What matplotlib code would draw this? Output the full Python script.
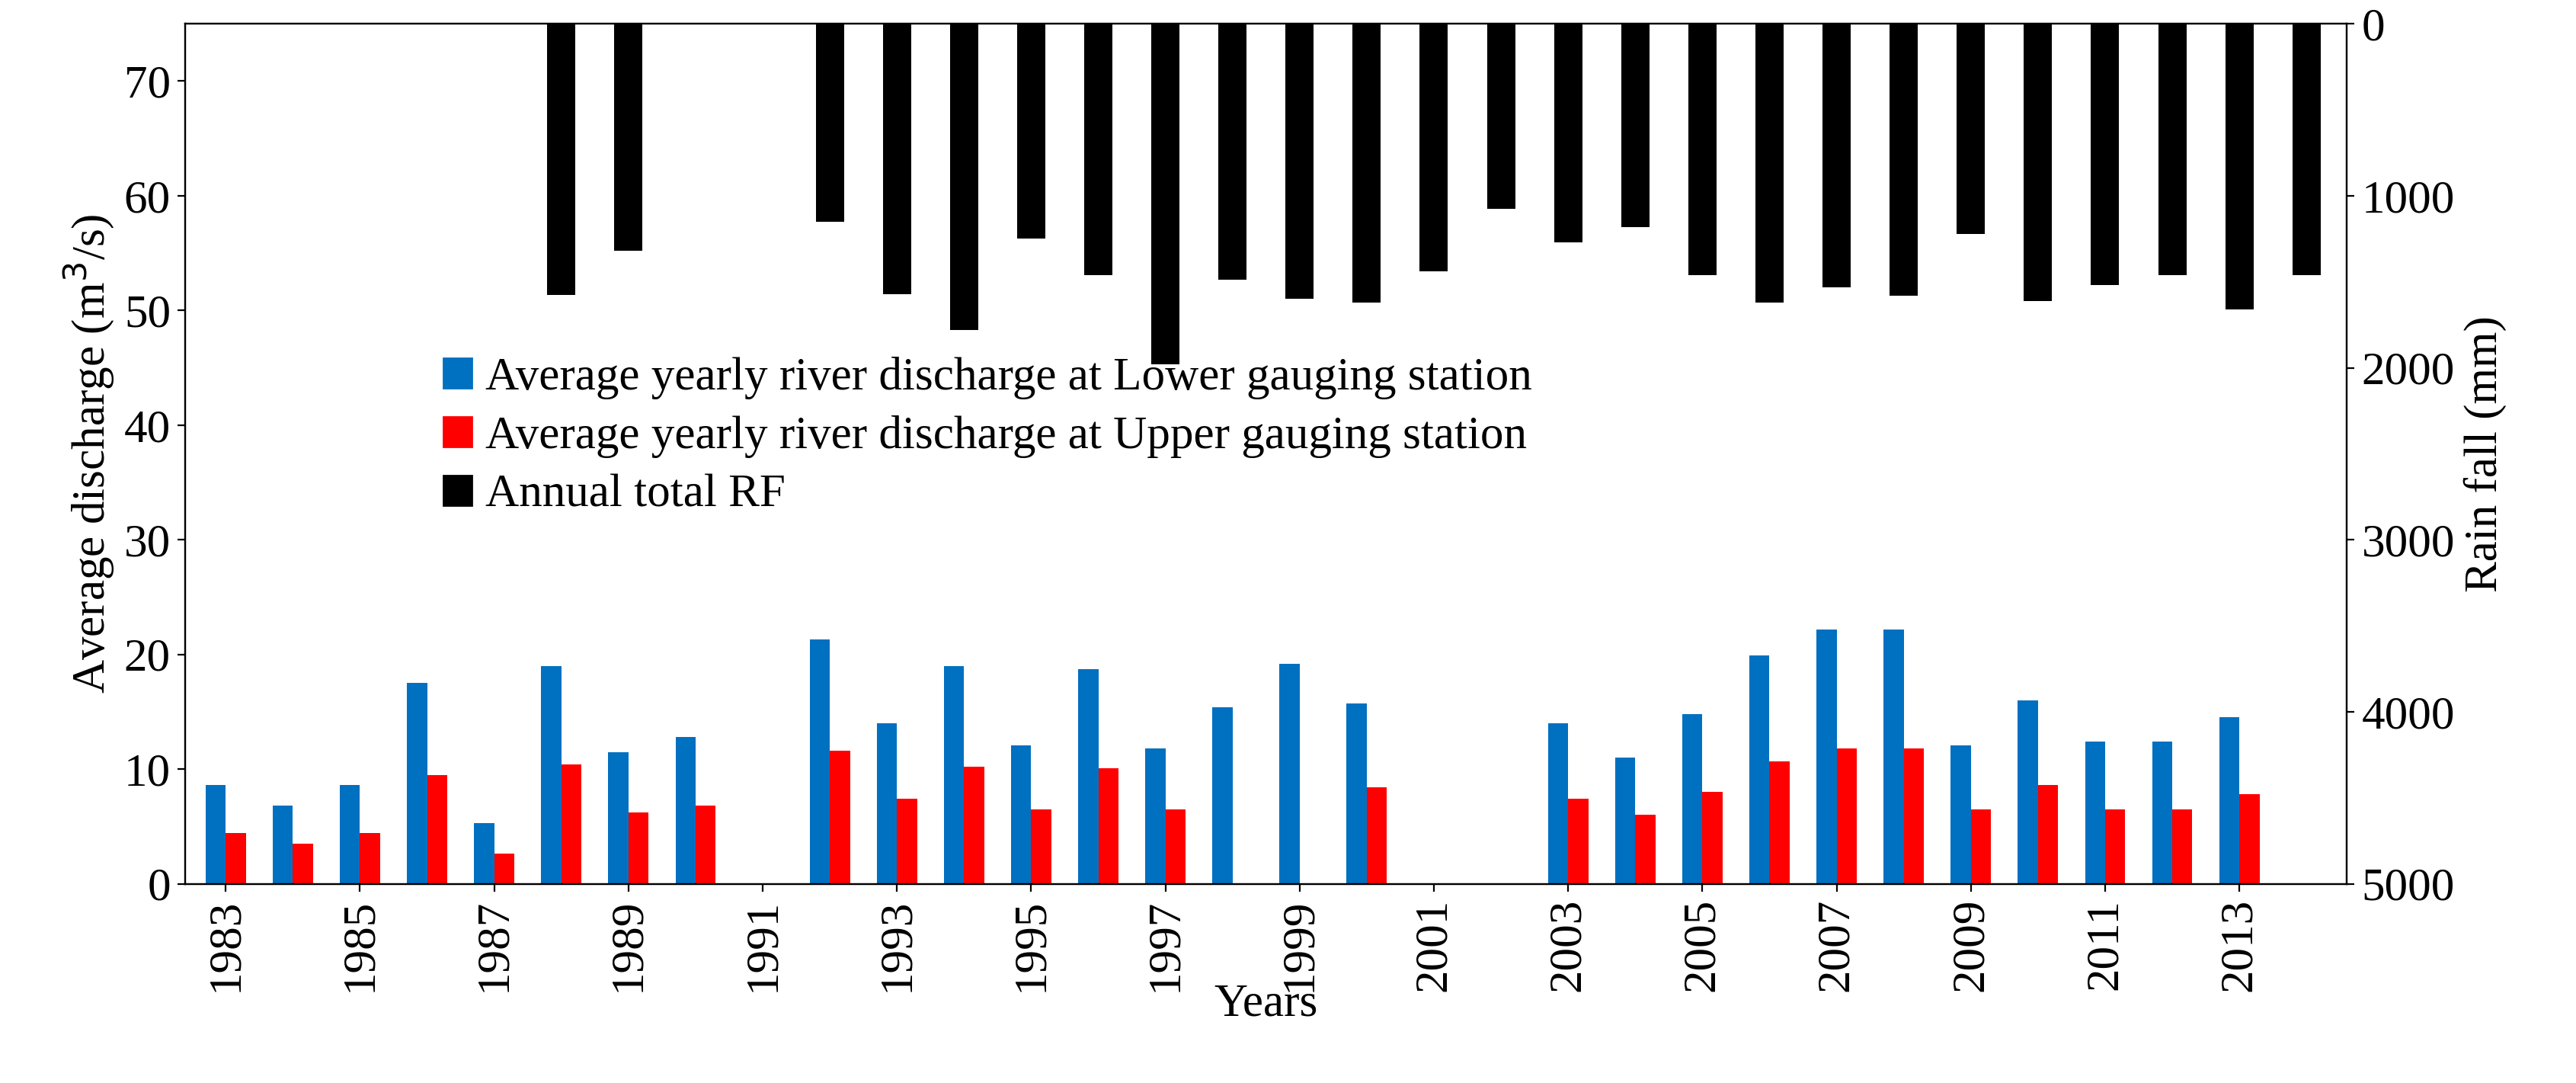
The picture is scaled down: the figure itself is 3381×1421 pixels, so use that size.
import numpy as np
import matplotlib.pyplot as plt
from matplotlib.patches import Patch

years = list(range(1983, 2015))
lower = [8.6, 6.8, 8.6, 17.5, 5.3, 19.0, 11.5, 12.8, 0, 21.3, 14.0, 19.0, 12.1, 18.7, 11.8, 15.4,
         19.2, 15.7, 0, 0, 14.0, 11.0, 14.8, 19.9, 22.2, 22.2, 12.1, 16.0, 12.4, 12.4, 14.5, 0]
upper = [4.4, 3.5, 4.4, 9.5, 2.6, 10.4, 6.2, 6.8, 0, 11.6, 7.4, 10.2, 6.5, 10.1, 6.5, 0,
         0, 8.4, 0, 0, 7.4, 6.0, 8.0, 10.7, 11.8, 11.8, 6.5, 8.6, 6.5, 6.5, 7.8, 0]
rain = [0, 0, 0, 0, 0, 1575, 1320, 0, 0, 1150, 1570, 1780, 1250, 1460, 1980, 1490,
        1600, 1620, 1440, 1075, 1270, 1180, 1460, 1620, 1530, 1580, 1220, 1610, 1520, 1460, 1660, 1460]

plt.rcParams['font.family'] = ['Liberation Serif', 'DejaVu Serif']
fig, ax = plt.subplots(figsize=(16.905, 7.105), dpi=200)
x = np.arange(len(years))
w = 0.3
ax.bar(x - w / 2, lower, w, color='#0070C0')
ax.bar(x + w / 2, upper, w, color='#FF0000')
ax.set_ylim(0, 75)
ax.set_xlim(-0.6, len(years) - 0.4)
ax.set_yticks(range(0, 80, 10))
ax.set_xticks(x[::2])
ax.set_xticklabels([str(y) for y in years[::2]], rotation=90)
ax.tick_params(labelsize=22)
ax.set_ylabel('Average discharge (m$^3$/s)', fontsize=22)
ax.set_xlabel('Years', fontsize=22, labelpad=-4)

ax2 = ax.twinx()
ax2.bar(x, rain, 0.42, color='black')
ax2.set_ylim(5000, 0)
ax2.set_yticks(range(0, 5001, 1000))
ax2.tick_params(labelsize=22)
ax2.set_ylabel('Rain fall (mm)', fontsize=22)

handles = [Patch(color='#0070C0'), Patch(color='#FF0000'), Patch(color='black')]
labels = ['Average yearly river discharge at Lower gauging station',
          'Average yearly river discharge at Upper gauging station',
          'Annual total RF']
ax.legend(handles, labels, loc='center left', bbox_to_anchor=(0.1, 0.52), frameon=False, fontsize=22,
          handlelength=0.6, handleheight=0.6, handletextpad=0.3, labelspacing=0.35)
plt.subplots_adjust(left=0.072, right=0.911, top=0.978, bottom=0.184)
plt.savefig('out.png', dpi=200)
